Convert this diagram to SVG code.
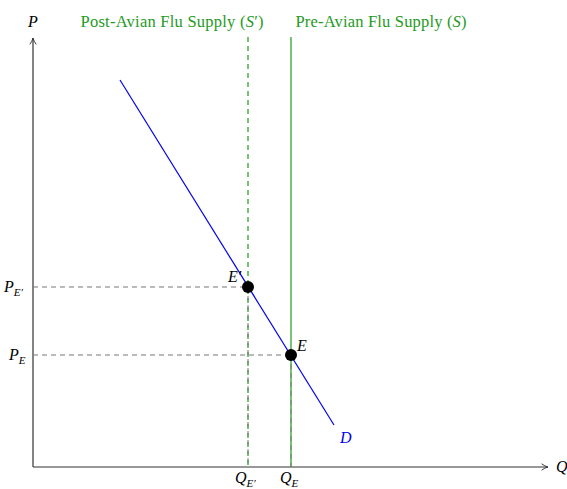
<svg xmlns="http://www.w3.org/2000/svg" width="567" height="489" viewBox="0 0 567 489">
<style>
text{font-family:"Liberation Serif","DejaVu Serif",serif;font-size:16px}
.it{font-style:italic}
.sub{font-size:11px;font-style:italic}
.green{fill:#1f9a1f;font-size:16.5px}
.axis{stroke:#333;stroke-width:1.2;fill:none}
.guide{stroke:#777;stroke-width:1;stroke-dasharray:5,4;fill:none}
</style>
<defs>
<marker id="arr" viewBox="0 0 10 10" refX="9" refY="5" markerWidth="8" markerHeight="8" orient="auto" markerUnits="userSpaceOnUse">
<path d="M1,1 Q5,4 9,5 Q5,6 1,9" fill="none" stroke="#333" stroke-width="1.2"/>
</marker>
</defs>
<rect width="567" height="489" fill="#fff"/>
<g id="connectors">
<line class="axis" x1="33" y1="467" x2="33" y2="38" marker-end="url(#arr)"/>
<line class="axis" x1="33" y1="467" x2="548" y2="467" marker-end="url(#arr)"/>
<line class="guide" x1="33" y1="287" x2="248" y2="287"/>
<line class="guide" x1="33" y1="355" x2="291" y2="355"/>
<line x1="248" y1="37" x2="248" y2="467" stroke="#1f9a1f" stroke-width="1.2" stroke-dasharray="5,4"/>
<line x1="291" y1="37" x2="291" y2="467" stroke="#1f9a1f" stroke-width="1.2"/>
<line class="guide" x1="248" y1="287" x2="248" y2="467"/>
<line class="guide" x1="291" y1="355" x2="291" y2="467"/>
<line x1="120" y1="80" x2="334" y2="425" stroke="#0000ee" stroke-width="1.2"/>
</g>
<g id="axis-labels">
<text class="it" x="33" y="27" text-anchor="middle">P</text>
<text class="it" x="556" y="472">Q</text>
</g>
<g id="supply-labels">
<text class="green" x="172" y="27" text-anchor="middle" textLength="183">Post-Avian Flu Supply (<tspan class="it">S</tspan>′)</text>
<text class="green" x="381" y="27" text-anchor="middle" textLength="171">Pre-Avian Flu Supply (<tspan class="it">S</tspan>)</text>
</g>
<g id="E-prime">
<circle cx="248" cy="287" r="6" fill="#000"/>
<text class="it" x="228" y="282">E′</text>
</g>
<g id="E">
<circle cx="291" cy="355" r="6" fill="#000"/>
<text class="it" x="297" y="351">E</text>
</g>
<g id="D-label">
<text class="it" x="340" y="443" fill="#0000ee">D</text>
</g>
<g id="ticks">
<text x="4" y="292"><tspan class="it">P</tspan><tspan class="sub" dy="4">E′</tspan></text>
<text x="9" y="360"><tspan class="it">P</tspan><tspan class="sub" dy="4">E</tspan></text>
<text x="235" y="483"><tspan class="it">Q</tspan><tspan class="sub" dy="4">E′</tspan></text>
<text x="280" y="483"><tspan class="it">Q</tspan><tspan class="sub" dy="4">E</tspan></text>
</g>
</svg>
